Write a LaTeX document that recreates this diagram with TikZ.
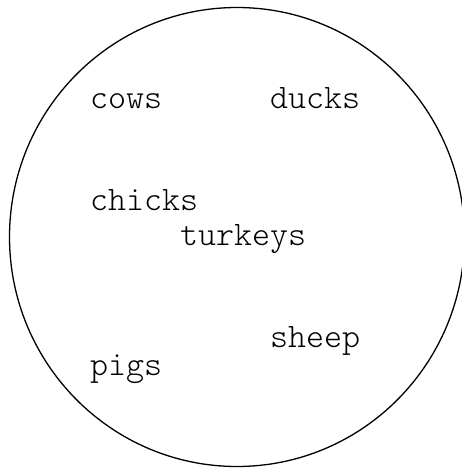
\documentclass[tikz,border=0pt]{standalone}
\usepackage{fontspec}
\newfontfamily\lmlight{Latin Modern Mono Light}
\begin{document}
\begin{tikzpicture}[x=1pt,y=-1pt,
  lbl/.style={anchor=base west,inner sep=0pt,font=\fontsize{34.3}{34.3}\selectfont\lmlight}]
\useasboundingbox (0,0) rectangle (462,472);
\begin{scope}
\clip (0,0) rectangle (462,472);
\draw[line width=1.3pt] (237,237) ellipse [x radius=227.5, y radius=229.5];
\end{scope}
\node[lbl] (cows) at (90,108) {cows};
\node[lbl] (ducks) at (270,108) {ducks};
\node[lbl] (chicks) at (90,210) {chicks};
\node[lbl] (turkeys) at (180,245) {turkeys};
\node[lbl] (sheep) at (270,347) {sheep};
\node[lbl] (pigs) at (90,375) {pigs};
\end{tikzpicture}
\end{document}
